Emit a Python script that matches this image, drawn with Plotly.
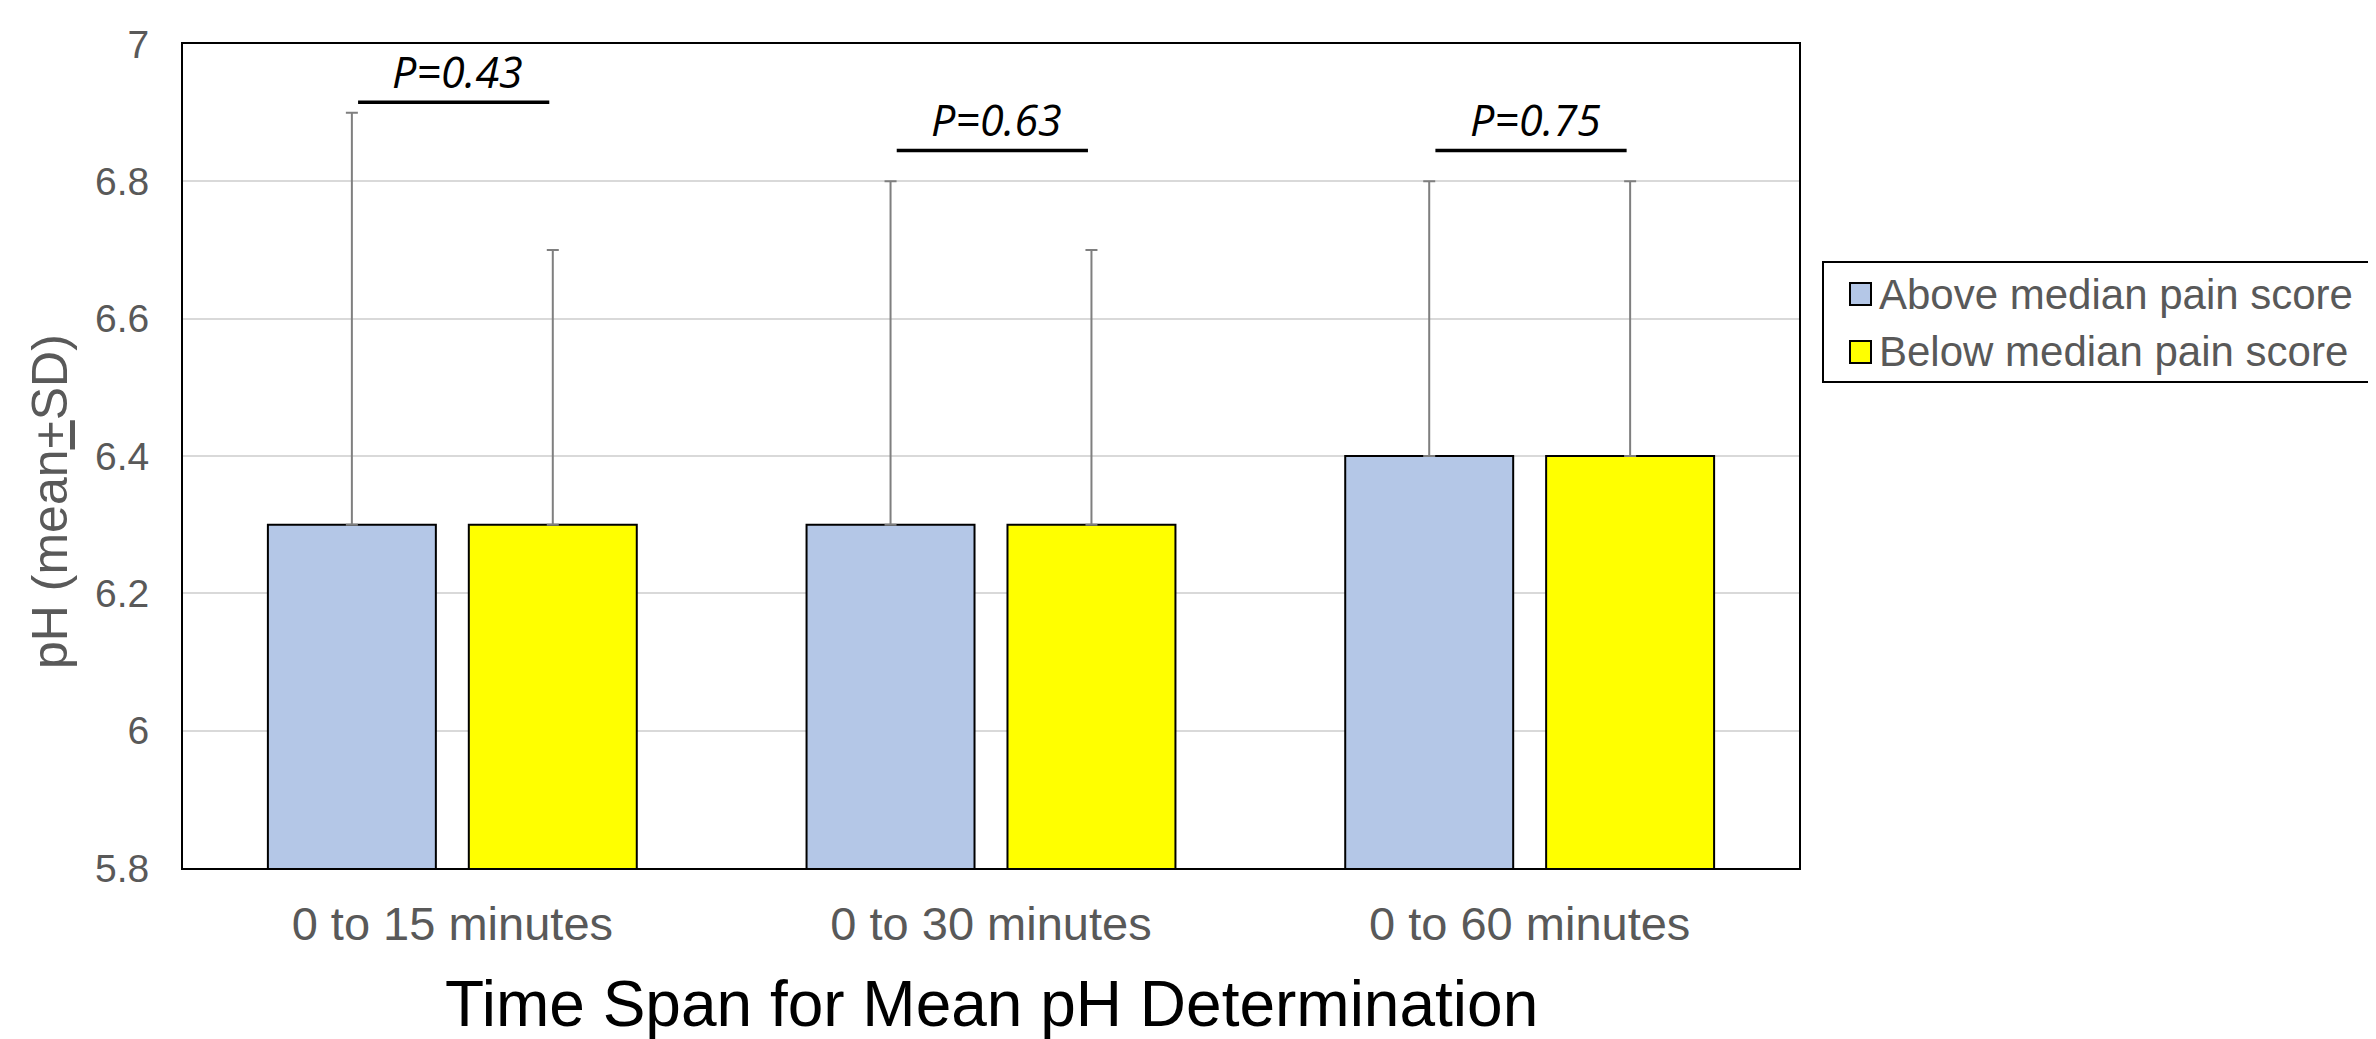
import plotly.graph_objects as go

categories = ["0 to 15 minutes", "0 to 30 minutes", "0 to 60 minutes"]
above_mean = [6.3, 6.3, 6.4]
above_sd = [0.6, 0.5, 0.4]
below_mean = [6.3, 6.3, 6.4]
below_sd = [0.4, 0.4, 0.4]
p_labels = ["P=0.43", "P=0.63", "P=0.75"]
p_line_y = [6.915, 6.845, 6.845]
series_names = ["Above median pain score", "Below median pain score"]
series_colors = ["#B4C7E7", "#FFFF00"]

# page body adds an 8px offset, so the figure is 8px smaller on each axis
OFF = 8
W, H = 2376 - OFF, 1039 - OFF
ML, MR, MT, MB = 183 - OFF, 577, 44 - OFF, 171
FONT = "Liberation Sans, Arial, sans-serif"
GRAY = "#595959"
pw = W - ML - MR
ph = H - MT - MB


def px(sx):
    return (sx - 183) / pw


def py(sy):
    return (868 - sy) / ph


fig = go.Figure()
for name, col, m, sd in [(series_names[0], series_colors[0], above_mean, above_sd),
                         (series_names[1], series_colors[1], below_mean, below_sd)]:
    fig.add_trace(go.Bar(
        name=name, x=categories, y=m, showlegend=False,
        marker=dict(color=col, line=dict(color="black", width=2)),
        error_y=dict(type="data", array=sd, arrayminus=[0] * len(sd),
                     symmetric=False, color="#7F7F7F", thickness=2, width=6),
    ))

shapes = []
annotations = []
for i, (lab, ly) in enumerate(zip(p_labels, p_line_y)):
    shapes.append(dict(type="line", xref="x", yref="y", x0=i - 0.175, x1=i + 0.18,
                       y0=ly, y1=ly, line=dict(color="black", width=3.5)))
    annotations.append(dict(xref="x", yref="y", x=i + 0.01, y=ly, yanchor="middle", yshift=31,
                            text="<i>%s</i>" % lab, showarrow=False,
                            font=dict(family="Open Sans, DejaVu Sans, sans-serif", size=43, color="black")))

# legend box drawn manually (large square swatches)
shapes.append(dict(type="rect", xref="paper", yref="paper", x0=px(1823), x1=px(2420),
                   y0=py(382), y1=py(262), line=dict(color="black", width=2),
                   fillcolor="white", layer="above"))
for k, (name, col) in enumerate(zip(series_names, series_colors)):
    cy = 294 + 58 * k
    shapes.append(dict(type="rect", xref="paper", yref="paper", x0=px(1850), x1=px(1871),
                       y0=py(cy + 11), y1=py(cy - 11), line=dict(color="black", width=2),
                       fillcolor=col, layer="above"))
    annotations.append(dict(xref="paper", yref="paper", x=px(1877), y=py(cy),
                            xanchor="left", yanchor="middle", text=name, showarrow=False,
                            font=dict(family=FONT, size=42, color=GRAY)))

annotations.append(dict(xref="paper", yref="paper", x=px(991), y=py(1004),
                        text="Time Span for Mean pH Determination", showarrow=False,
                        xanchor="center", yanchor="middle",
                        font=dict(family=FONT, size=64, color="black")))
annotations.append(dict(xref="paper", yref="paper", x=px(50), y=py(502),
                        text="pH (mean<u>+</u>SD)", showarrow=False, textangle=-90,
                        xanchor="center", yanchor="middle",
                        font=dict(family=FONT, size=50, color=GRAY)))

fig.update_layout(
    width=W, height=H,
    margin=dict(l=ML, r=MR, t=MT, b=MB, autoexpand=False),
    plot_bgcolor="white", paper_bgcolor="white",
    barmode="group", bargap=0.254, bargroupgap=0.164,
    font=dict(family=FONT, color=GRAY),
    showlegend=False,
    xaxis=dict(showline=True, linecolor="black", linewidth=2, mirror=True,
               ticks="", tickfont=dict(size=47, color=GRAY), ticklabelstandoff=14,
               showgrid=False),
    yaxis=dict(range=[5.8, 7], dtick=0.2, tick0=5.8, showline=True, linecolor="black",
               linewidth=2, mirror=True, showgrid=True, gridcolor="#D9D9D9", gridwidth=2,
               ticks="", tickfont=dict(size=39, color=GRAY), tickformat="~g",
               ticklabelstandoff=24, zeroline=False),
    shapes=shapes, annotations=annotations,
)

fig.write_html("out.html")
